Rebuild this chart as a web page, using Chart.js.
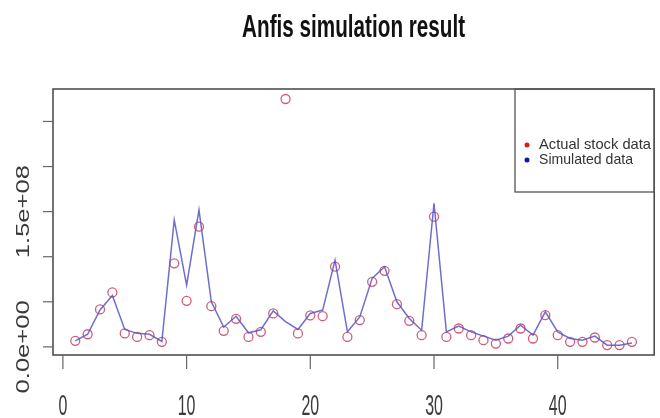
<!DOCTYPE html>
<html>
<head>
<meta charset="utf-8">
<script src="https://cdn.jsdelivr.net/npm/chart.js@4/dist/chart.umd.min.js"></script>
<style>
  body { margin: 0; background: #fff; }
  #grafico { display: block; }
</style>
</head>
<body>
<canvas id="grafico" width="660" height="418"></canvas>
<script>
// dados (indice 1..46)
const indices = [];
for (let i = 1; i <= 46; i++) indices.push(i);

const dadosReais = [
  6.7e6, 14e6, 41.5e6, 60.4e6, 14.9e6, 11.1e6, 13e6, 5.6e6, 92.7e6, 51.1e6,
  133.3e6, 45.2e6, 17.8e6, 31.1e6, 11.1e6, 16.7e6, 37.1e6, 274.9e6, 14.9e6, 34.9e6,
  34.1e6, 88.9e6, 11.1e6, 29.7e6, 72.2e6, 84.4e6, 47.4e6, 28.9e6, 13e6, 144.4e6,
  11.1e6, 20.4e6, 13e6, 7.4e6, 3.7e6, 9.3e6, 20.4e6, 9.3e6, 35.2e6, 13e6,
  5.6e6, 5.6e6, 10.4e6, 2e6, 2e6, 5.6e6
];

const dadosSimulados = [
  6.7e6, 14e6, 41e6, 57e6, 19.3e6, 15e6, 14e6, 6e6, 140.8e6, 68.5e6,
  151.9e6, 50e6, 22e6, 34e6, 15.6e6, 19e6, 40e6, 28e6, 19.3e6, 37e6,
  40.8e6, 96.3e6, 16.7e6, 33.3e6, 76e6, 88.9e6, 50e6, 31.5e6, 18.5e6, 159.3e6,
  16.7e6, 23e6, 16.7e6, 11.9e6, 7.4e6, 11.9e6, 24e6, 13e6, 38.9e6, 16.7e6,
  9.3e6, 7.4e6, 11.9e6, 1.9e6, 1.9e6, 4.4e6
];

const ticksX = [0, 10, 20, 30, 40];
const ticksY = [0, 5e7, 1e8, 1.5e8, 2e8, 2.5e8];
const rotulosY = { 0: "0.0e+00", 150000000: "1.5e+08" };
const titulo = "Anfis simulation result";
const legendas = ["Actual stock data", "Simulated data"];

// texto comprimido/esticado na horizontal para parecer com o grafico do R
function textoAjustado(ctx, texto, x, y, largura, fonte) {
  ctx.save();
  ctx.font = fonte;
  const w = ctx.measureText(texto).width;
  ctx.translate(x, y);
  ctx.scale(largura / w, 1);
  ctx.fillText(texto, 0, 0);
  ctx.restore();
}

const eixosR = {
  id: "eixosR",
  afterDraw(chart) {
    const ctx = chart.ctx;
    const area = chart.chartArea;
    const sx = chart.scales.x;
    const sy = chart.scales.y;

    ctx.save();
    // caixa do grafico
    ctx.strokeStyle = "#444";
    ctx.lineWidth = 1.5;
    ctx.strokeRect(area.left, area.top, area.right - area.left, area.bottom - area.top);

    // eixo x
    ctx.strokeStyle = "#666";
    ctx.lineWidth = 1.2;
    ctx.fillStyle = "#3a3a3a";
    ctx.textBaseline = "alphabetic";
    ctx.textAlign = "center";
    ticksX.forEach(t => {
      const px = sx.getPixelForValue(t);
      ctx.beginPath();
      ctx.moveTo(px, area.bottom);
      ctx.lineTo(px, area.bottom + 14);
      ctx.stroke();
      ctx.save();
      ctx.font = "29px 'Liberation Sans', Arial, sans-serif";
      ctx.translate(px, 415);
      ctx.scale(0.55, 1);
      ctx.fillText(String(t), 0, 0);
      ctx.restore();
    });

    // eixo y
    ticksY.forEach(t => {
      const py = sy.getPixelForValue(t);
      ctx.beginPath();
      ctx.moveTo(area.left - 10, py);
      ctx.lineTo(area.left, py);
      ctx.stroke();
      const rotulo = rotulosY[t];
      if (rotulo) {
        ctx.save();
        ctx.font = "19px 'Liberation Sans', Arial, sans-serif";
        ctx.textBaseline = "middle";
        const w = ctx.measureText(rotulo).width;
        ctx.translate(24, py);
        ctx.rotate(-Math.PI / 2);
        ctx.scale(93 / w, 1);
        ctx.fillText(rotulo, 0, 0);
        ctx.restore();
      }
    });

    // titulo
    ctx.fillStyle = "#111";
    ctx.textAlign = "center";
    textoAjustado(ctx, titulo, (area.left + area.right) / 2, 37, 223, "bold 31px 'Liberation Sans', Arial, sans-serif");

    // legenda
    ctx.strokeStyle = "#555";
    ctx.lineWidth = 1.3;
    ctx.strokeRect(515, area.top, area.right - 515, 103);
    const coresLegenda = ["#d02020", "#1515a0"];
    const larguras = [112, 94];
    [145, 160].forEach((y, i) => {
      ctx.fillStyle = coresLegenda[i];
      ctx.beginPath();
      ctx.arc(527, y, 2.5, 0, Math.PI * 2);
      ctx.fill();
      ctx.fillStyle = "#333";
      ctx.textAlign = "left";
      ctx.textBaseline = "middle";
      textoAjustado(ctx, legendas[i], 539, y, larguras[i], "15px 'Liberation Sans', Arial, sans-serif");
    });
    ctx.restore();
  }
};

new Chart(document.getElementById("grafico"), {
  type: "line",
  data: {
    labels: indices,
    datasets: [
      {
        label: legendas[1],
        data: indices.map((x, i) => ({ x: x, y: dadosSimulados[i] })),
        borderColor: "rgba(85,85,200,0.85)",
        borderWidth: 1.5,
        pointRadius: 0,
        tension: 0,
        fill: false
      },
      {
        label: legendas[0],
        data: indices.map((x, i) => ({ x: x, y: dadosReais[i] })),
        showLine: false,
        pointStyle: "circle",
        pointRadius: 4.5,
        pointBorderWidth: 1.3,
        pointBorderColor: "rgba(205,75,105,0.9)",
        pointBackgroundColor: "rgba(0,0,0,0)"
      }
    ]
  },
  options: {
    responsive: false,
    animation: false,
    layout: { padding: { left: 53, right: 2, top: 89, bottom: 63 } },
    plugins: {
      legend: { display: false },
      title: { display: false },
      tooltip: { enabled: false }
    },
    scales: {
      x: { type: "linear", min: -0.8, max: 47.8, display: false },
      y: { type: "linear", min: -9e6, max: 2.86e8, display: false }
    }
  },
  plugins: [eixosR]
});
</script>
</body>
</html>
